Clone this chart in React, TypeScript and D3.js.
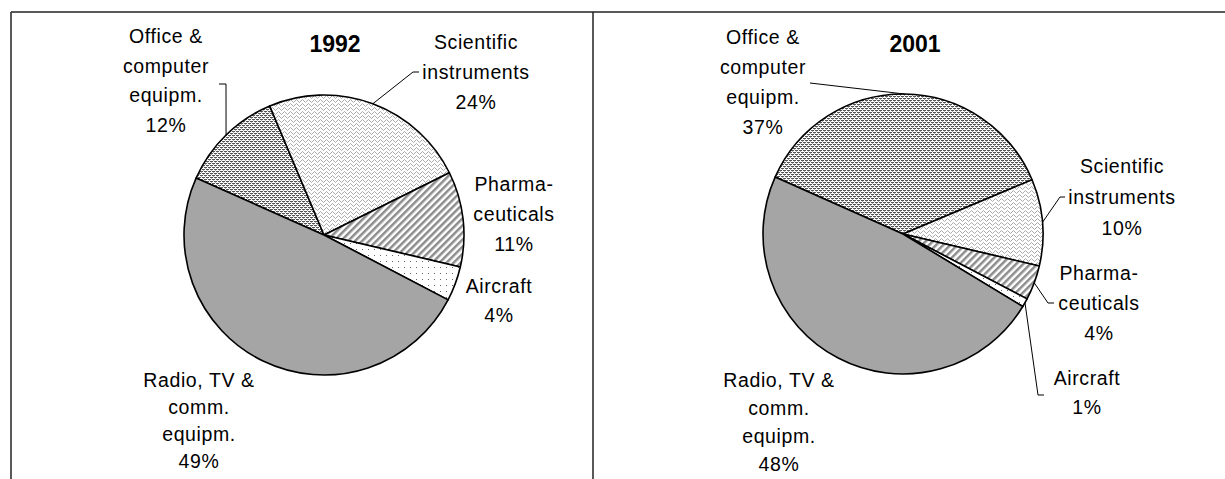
import React from "react";
import * as d3 from "d3";

// data
const categories = ["Office & computer equipm.", "Scientific instruments", "Pharmaceuticals", "Aircraft", "Radio, TV & comm. equipm."];
const labelLines = [["Office &", "computer", "equipm."], ["Scientific", "instruments"], ["Pharma-", "ceuticals"], ["Aircraft"], ["Radio, TV &", "comm.", "equipm."]];
const years = ["1992", "2001"];
const shares1992 = [12, 24, 11, 4, 49];
const shares2001 = [37, 10, 4, 1, 48];

const W = 1225, H = 479;
const START = (-66 * Math.PI) / 180;
const fills = ["url(#pOffice)", "url(#pSci)", "url(#pPharma)", "url(#pAir)", "#a5a5a5"];

// label layout for each panel: center x, first line y, optional leader points (label side)
type Lab = { x: number; y: number; lh: number; lead?: [number, number][] };
const panels: { cx: number; cy: number; r: number; tx: number; ty: number; values: number[]; labels: Lab[] }[] = [
  {
    cx: 324, cy: 235, r: 140, tx: 335, ty: 44, values: shares1992,
    labels: [
      { x: 166, y: 36, lh: 29.5, lead: [[219, 84], [226, 84]] },
      { x: 476, y: 42, lh: 30, lead: [[419, 72], [413, 72]] },
      { x: 514, y: 184, lh: 30 },
      { x: 499, y: 286, lh: 29 },
      { x: 199, y: 380, lh: 27 },
    ],
  },
  {
    cx: 903, cy: 234, r: 140, tx: 915, ty: 44, values: shares2001,
    labels: [
      { x: 763, y: 37, lh: 30, lead: [[810, 83]] },
      { x: 1122, y: 166, lh: 31, lead: [[1065, 197], [1060, 197]] },
      { x: 1099, y: 273, lh: 30, lead: [[1054, 303], [1048, 303]] },
      { x: 1087, y: 378, lh: 29, lead: [[1044, 395], [1038, 395]] },
      { x: 779, y: 380, lh: 28 },
    ],
  },
];

const font = "'Liberation Sans', Arial, sans-serif";

function Panel({ p, year }: { p: (typeof panels)[0]; year: string }) {
  const pie = d3.pie<number>().sort(null).startAngle(START).endAngle(START + 2 * Math.PI).value((d) => d);
  const slices = pie(p.values);
  const arc = d3.arc<d3.PieArcDatum<number>>().innerRadius(0).outerRadius(p.r);
  const edge = d3.arc<d3.PieArcDatum<number>>().innerRadius(p.r).outerRadius(p.r);
  const line = d3.line();
  return (
    <g>
      <g transform={`translate(${p.cx},${p.cy})`}>
        {slices.map((s, i) => (
          <path key={categories[i]} d={arc(s) || ""} fill={fills[i]} stroke="#000" strokeWidth={1.6} strokeLinejoin="round" />
        ))}
      </g>
      <text x={p.tx} y={p.ty + 8} textAnchor="middle" fontFamily={font} fontWeight="bold" fontSize={23}>
        {year}
      </text>
      {slices.map((s, i) => {
        const lab = p.labels[i];
        const lines = [...labelLines[i], `${p.values[i]}%`];
        let leader = null;
        if (lab.lead) {
          const [ex, ey] = edge.centroid(s);
          const pts: [number, number][] = [...lab.lead.map((q) => [q[0], q[1]] as [number, number]), [p.cx + ex, p.cy + ey]];
          leader = <path d={line(pts) || ""} fill="none" stroke="#000" strokeWidth={1} />;
        }
        return (
          <g key={categories[i]}>
            {leader}
            <text textAnchor="middle" fontFamily={font} fontSize={19.5} letterSpacing={0.6} fill="#000">
              {lines.map((t, k) => (
                <tspan key={k} x={lab.x} y={lab.y + k * lab.lh + 7}>
                  {t}
                </tspan>
              ))}
            </text>
          </g>
        );
      })}
    </g>
  );
}

export default function App() {
  return (
    <svg width={W} height={H} style={{ position: "absolute", left: 0, top: 0, background: "#fff" }}>
      <defs>
        <pattern id="pOffice" width={4} height={4} patternUnits="userSpaceOnUse">
          <rect width={4} height={4} fill="#fff" />
          <rect x={0} y={0} width={3} height={1} fill="#555" />
          <rect x={2} y={2} width={2} height={1} fill="#555" />
          <rect x={0} y={2} width={1} height={1} fill="#555" />
          <rect x={1} y={1} width={1} height={1} fill="#aaa" />
          <rect x={3} y={3} width={1} height={1} fill="#aaa" />
        </pattern>
        <pattern id="pSci" width={6} height={4} patternUnits="userSpaceOnUse">
          <rect width={6} height={4} fill="#fff" />
          <rect x={0} y={2} width={1} height={1} fill="#aaa" />
          <rect x={1} y={1} width={1} height={1} fill="#aaa" />
          <rect x={2} y={0} width={1} height={1} fill="#bbb" />
          <rect x={3} y={1} width={1} height={1} fill="#aaa" />
          <rect x={4} y={2} width={1} height={1} fill="#aaa" />
          <rect x={5} y={3} width={1} height={1} fill="#bbb" />
        </pattern>
        <pattern id="pPharma" width={5} height={5} patternUnits="userSpaceOnUse" patternTransform="rotate(45)">
          <rect width={5} height={5} fill="#fff" />
          <rect width={2.5} height={5} fill="#8c8c8c" />
        </pattern>
        <pattern id="pAir" width={6} height={6} patternUnits="userSpaceOnUse">
          <rect width={6} height={6} fill="#fff" />
          <rect x={2} y={2} width={1} height={1} fill="#666" />
        </pattern>
      </defs>
      <line x1={11} y1={12} x2={W} y2={12} stroke="#222" strokeWidth={1.5} />
      <line x1={11} y1={12} x2={11} y2={H} stroke="#222" strokeWidth={1.5} />
      <line x1={593} y1={12} x2={593} y2={H} stroke="#222" strokeWidth={1.5} />
      {panels.map((p, i) => (
        <Panel key={years[i]} p={p} year={years[i]} />
      ))}
    </svg>
  );
}
